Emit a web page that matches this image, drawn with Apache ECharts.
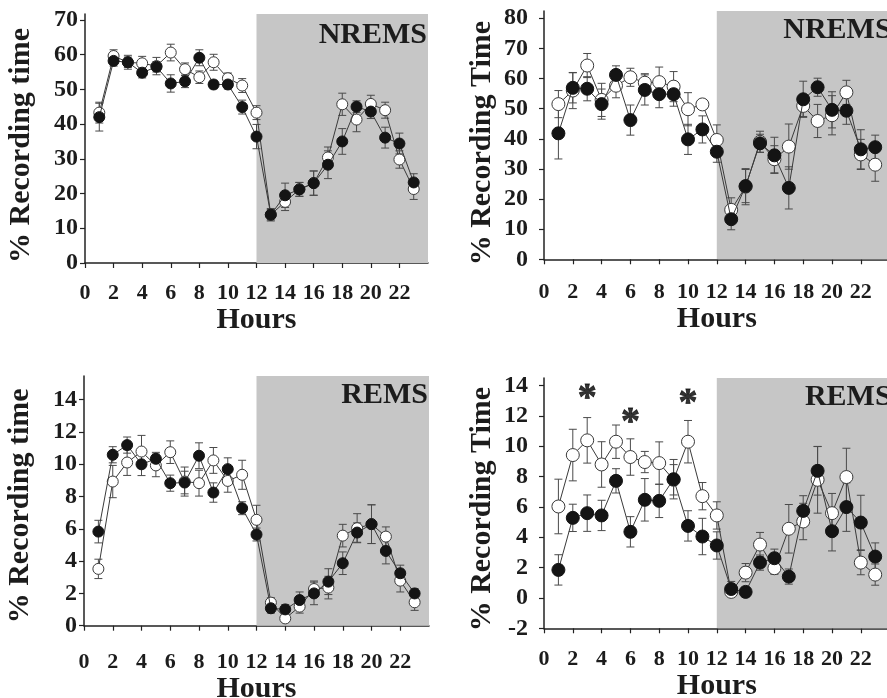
<!DOCTYPE html>
<html>
<head>
<meta charset="utf-8">
<script src="https://cdn.jsdelivr.net/npm/echarts@6/dist/echarts.min.js"></script>
<style>
	html, body { margin: 0; padding: 0; background: #fff; }
	#chart { width: 887px; height: 698px; }
</style>
</head>
<body>
<div id="chart"></div>
<script>
// hour of recording, 1..23
const hours = [1, 2, 3, 4, 5, 6, 7, 8, 9, 10, 11, 12, 13, 14, 15, 16, 17, 18, 19, 20, 21, 22, 23];

// panel A: NREMS, % recording time
const nremA_filled = [42, 58.2, 57.8, 54.8, 56.5, 51.7, 52.3, 59.1, 51.4, 51.4, 44.9, 36.4, 13.9, 19.5, 21.2, 23.0, 28.3, 35.0, 45.0, 43.6, 36.1, 34.4, 23.2];
const nremA_filledErr = [4, 1.5, 1.5, 1.5, 1.5, 2.5, 1.8, 2.3, 1.2, 1.3, 2, 3.5, 1.8, 3.5, 2, 3.5, 4, 3.7, 1.7, 2, 3, 3, 2.5];
const nremA_open = [43.3, 59.6, 57.8, 57.5, 56.7, 60.6, 55.8, 53.5, 57.8, 53.2, 51.1, 43.3, 13.9, 17.6, 21.2, 23.0, 30.4, 45.7, 41.3, 45.8, 44.0, 29.8, 21.3];
const nremA_openErr = [3, 1.8, 2, 2, 2.5, 2.4, 1.8, 1.8, 2.3, 1.5, 2, 2, 1.5, 2.5, 2, 3.5, 3, 3.2, 3.5, 2.5, 2.3, 2.5, 3];

// panel B: NREMS, % recording Time
const nremB_filled = [41.8, 56.9, 56.6, 51.5, 61.2, 46.2, 56.2, 54.8, 54.8, 39.8, 43.1, 35.7, 13.3, 24.3, 38.5, 34.5, 23.7, 53.1, 57.1, 49.6, 49.3, 36.5, 37.2];
const nremB_filledErr = [8.5, 5, 4, 5, 3, 5, 5, 4.5, 4, 5, 4.5, 3.5, 3.5, 5.5, 3, 6, 7, 6, 3, 6, 4.5, 6.5, 4];
const nremB_open = [51.5, 56.0, 64.3, 52.9, 57.6, 60.4, 58.6, 58.8, 57.3, 49.8, 51.4, 39.6, 16.4, 24.1, 39.0, 33.2, 37.4, 50.9, 45.9, 47.8, 55.4, 34.8, 31.4];
const nremB_openErr = [4.5, 6, 4, 5.5, 4, 3, 3, 5, 5, 5.5, 1.5, 5, 4, 6, 3.5, 4.5, 7.5, 3.5, 5.5, 6.5, 4, 5, 5.5];

// panel C: REMS, % recording time
const remC_filled = [5.83, 10.59, 11.19, 10.0, 10.34, 8.83, 8.87, 10.53, 8.25, 9.70, 7.28, 5.65, 1.08, 1.01, 1.59, 2.0, 2.73, 3.87, 5.77, 6.29, 4.63, 3.25, 2.0];
const remC_filledErr = [0.7, 0.5, 0.5, 0.7, 0.4, 0.5, 0.7, 0.8, 0.6, 0.7, 0.4, 0.4, 0.3, 0.3, 0.5, 0.7, 0.8, 0.7, 0.6, 1.2, 0.8, 0.5, 0.3];
const remC_open = [3.52, 8.93, 10.11, 10.79, 9.93, 10.75, 8.93, 8.83, 10.24, 8.97, 9.35, 6.56, 1.43, 0.45, 1.18, 2.27, 2.36, 5.58, 6.04, 6.29, 5.52, 2.79, 1.45];
const remC_openErr = [0.6, 1.0, 0.8, 1.0, 0.7, 0.7, 0.9, 0.8, 0.8, 0.7, 0.9, 0.9, 0.3, 0.2, 0.4, 0.5, 0.7, 0.7, 0.9, 1.2, 0.6, 0.7, 0.5];

// panel D: REMS, % recording Time
const remD_filled = [1.85, 5.28, 5.59, 5.44, 7.72, 4.36, 6.47, 6.40, 7.83, 4.75, 4.05, 3.46, 0.59, 0.40, 2.33, 2.62, 1.41, 5.74, 8.38, 4.40, 5.99, 4.97, 2.73];
const remD_filledErr = [1.0, 0.9, 1.2, 1.0, 0.8, 1.0, 1.4, 1.1, 1.3, 1.0, 1.2, 0.9, 0.5, 0.2, 0.5, 0.6, 0.5, 1.0, 1.6, 1.3, 1.6, 1.8, 0.9];
const remD_open = [6.03, 9.42, 10.39, 8.80, 10.30, 9.29, 8.96, 8.89, 7.79, 10.30, 6.71, 5.44, 0.40, 1.67, 3.52, 1.96, 4.56, 5.04, 7.79, 5.59, 7.97, 2.33, 1.54];
const remD_openErr = [1.8, 1.7, 1.5, 1.5, 1.1, 1.2, 0.7, 1.4, 1.0, 1.4, 0.9, 0.9, 0.3, 0.6, 0.8, 0.4, 1.6, 1.2, 2.2, 1.3, 1.9, 0.8, 0.7];

// significance stars in panel D
const starHours = [3, 6, 10];
const starLevels = [13.1, 11.5, 12.8];

// tick labels
const xTicks = [0, 2, 4, 6, 8, 10, 12, 14, 16, 18, 20, 22];
const nremATicks = [0, 10, 20, 30, 40, 50, 60, 70];
const nremBTicks = [0, 10, 20, 30, 40, 50, 60, 70, 80];
const remCTicks = [0, 2, 4, 6, 8, 10, 12, 14];
const remDTicks = [-2, 0, 2, 4, 6, 8, 10, 12, 14];

// dark phase shading
const darkStart = 12, darkEnd = 24;

const FONT = '"Liberation Serif", "Times New Roman", serif',
	INK = '#1c1c1c';

const panels = [
	{ left: 85, top: 14, width: 343, height: 249, min: 0, max: 71.7, yTicks: nremATicks,
		name: '% Recording time', tag: 'NREMS', filled: nremA_filled, filledErr: nremA_filledErr,
		open: nremA_open, openErr: nremA_openErr, sym: 11, yMargin: 7, xMargin: 19, xGap: 40, yGap: 49,
		namePad: 14, tagOffset: [2, 3] },
	{ left: 544, top: 11, width: 345.6, height: 248.3, min: 0, max: 82.4, yTicks: nremBTicks,
		name: '% Recording Time', tag: 'NREMS', filled: nremB_filled, filledErr: nremB_filledErr,
		open: nremB_open, openErr: nremB_openErr, sym: 13, yMargin: 16, xMargin: 22, xGap: 42, yGap: 47,
		namePad: 16, tagOffset: [5, 1] },
	{ left: 84, top: 376, width: 345, height: 249.7, min: 0, max: 15.47, yTicks: remCTicks,
		name: '% Recording time', tag: 'REMS', filled: remC_filled, filledErr: remC_filledErr,
		open: remC_open, openErr: remC_openErr, sym: 11, yMargin: 7, xMargin: 26, xGap: 48, yGap: 49,
		namePad: 10, tagOffset: [2, 1] },
	{ left: 544, top: 378, width: 345.6, height: 250.3, min: -2, max: 14.5, yTicks: remDTicks,
		name: '% Recording Time', tag: 'REMS', filled: remD_filled, filledErr: remD_filledErr,
		open: remD_open, openErr: remD_openErr, sym: 13, yMargin: 16, xMargin: 20, xGap: 43, yGap: 47,
		namePad: 12, tagOffset: [5, 1] },
];

const zip = (ys, errs) => hours.map((h, i) => errs ? [h, ys[i], errs[i]] : [h, ys[i]]);

const errorBars = (params, api) => {
	const x = api.value(0), y = api.value(1), e = api.value(2),
		hi = api.coord([x, y + e]),
		lo = api.coord([x, y - e]),
		cap = 4,
		style = { stroke: '#4a4a4a', lineWidth: 1 };
	return {
		type: 'group',
		children: [
			{ type: 'line', shape: { x1: hi[0], y1: hi[1], x2: lo[0], y2: lo[1] }, style },
			{ type: 'line', shape: { x1: hi[0] - cap, y1: hi[1], x2: hi[0] + cap, y2: hi[1] }, style },
			{ type: 'line', shape: { x1: lo[0] - cap, y1: lo[1], x2: lo[0] + cap, y2: lo[1] }, style },
		],
	};
};

const grid = [], xAxis = [], yAxis = [], series = [];

panels.forEach((p, i) => {
	// outerBoundsMode none: the right panels and bottom titles run past the canvas, as in the figure
	grid.push({ left: p.left, top: p.top, width: p.width, height: p.height, containLabel: false, outerBoundsMode: 'none' });
	xAxis.push({
		type: 'value', gridIndex: i, min: 0, max: 24, interval: 2,
		name: 'Hours', nameLocation: 'middle', nameGap: p.xGap,
		nameTextStyle: { fontFamily: FONT, fontWeight: 'bold', fontSize: 30, color: INK },
		axisLine: { onZero: false, lineStyle: { color: '#222', width: 1.5 } },
		axisTick: { length: 5, lineStyle: { color: '#222', width: 1.2 }, customValues: xTicks },
		axisLabel: { customValues: xTicks, margin: p.xMargin, fontFamily: FONT, fontWeight: 'bold', fontSize: 22, color: INK },
		splitLine: { show: false },
	});
	yAxis.push({
		type: 'value', gridIndex: i, min: p.min, max: p.max,
		name: p.name, nameLocation: 'middle', nameGap: p.yGap, nameRotate: 90,
		nameTextStyle: { fontFamily: FONT, fontWeight: 'bold', fontSize: 30, color: INK, padding: [0, p.namePad, 0, 0] },
		axisLine: { show: true, onZero: false, lineStyle: { color: '#222', width: 1.5 } },
		axisTick: { show: true, length: 5, lineStyle: { color: '#222', width: 1.2 }, customValues: p.yTicks },
		axisLabel: { customValues: p.yTicks, margin: p.yMargin, fontFamily: FONT, fontWeight: 'bold', fontSize: 24, color: INK },
		splitLine: { show: false },
	});

	// shaded dark phase with its label
	series.push({
		type: 'line', xAxisIndex: i, yAxisIndex: i, data: [], silent: true,
		markArea: {
			silent: true,
			itemStyle: { color: '#c6c6c6' },
			label: {
				show: true, position: 'insideTopRight', distance: 3, offset: p.tagOffset,
				fontFamily: FONT, fontWeight: 'bold', fontSize: 30, color: INK,
			},
			data: [[{ xAxis: darkStart, name: p.tag }, { xAxis: darkEnd }]],
		},
	});

	[[p.open, p.openErr], [p.filled, p.filledErr]].forEach(([ys, errs]) => {
		series.push({
			type: 'custom', xAxisIndex: i, yAxisIndex: i, silent: true, z: 3,
			renderItem: errorBars, encode: { x: 0, y: 1 },
			data: zip(ys, errs),
		});
	});
	[['open', p.open], ['filled', p.filled]].forEach(([kind, ys], k) => {
		series.push({
			type: 'line', xAxisIndex: i, yAxisIndex: i, z: 4 + k,
			data: zip(ys), symbol: 'circle', symbolSize: p.sym, showAllSymbol: true,
			lineStyle: { color: '#3a3a3a', width: 1 },
			itemStyle: kind === 'filled'
				? { color: '#141414', borderColor: '#141414', borderWidth: 1 }
				: { color: '#ffffff', borderColor: '#3a3a3a', borderWidth: 1 },
		});
	});
});

// significance asterisks in panel D
series.push({
	type: 'scatter', xAxisIndex: 3, yAxisIndex: 3, symbolSize: 0, z: 6,
	itemStyle: { color: '#000' },
	data: starHours.map((h, i) => [h, starLevels[i]]),
	label: {
		show: true, position: 'inside', formatter: '*',
		fontFamily: FONT, fontWeight: 'bold', fontSize: 38, color: '#000',
		textBorderWidth: 0.8, textBorderColor: '#000',
	},
});

const chart = echarts.init(document.getElementById('chart'), null, { renderer: 'canvas' });
chart.setOption({
	backgroundColor: '#ffffff',
	animation: false,
	grid, xAxis, yAxis, series,
});
</script>
</body>
</html>
